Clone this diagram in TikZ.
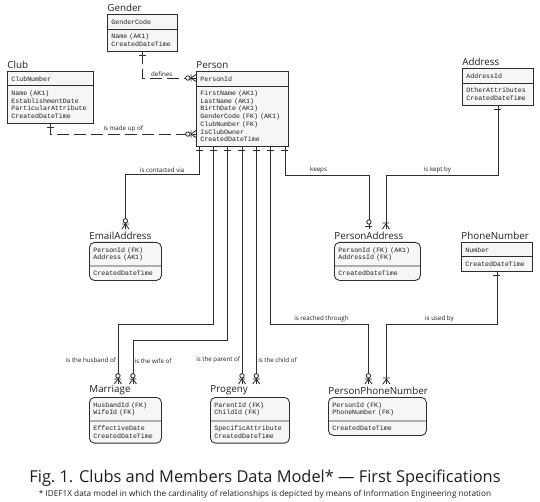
\documentclass[tikz,border=0pt]{standalone}
\usepackage{fontspec}
\setmainfont{Open Sans}
\setmonofont{Liberation Mono}
\usepackage{tikz}
\usetikzlibrary{positioning, shapes.multipart, calc}
\definecolor{erline}{HTML}{2E2E2E}
\definecolor{erfill}{HTML}{F6F6F6}
\definecolor{ertext}{HTML}{1E1E1E}
\newcommand{\attrfont}{\fontsize{6.6}{7.7}\selectfont\ttfamily}

\tikzset{
    pics/one/.style={code={\draw (-3.5,-3.5) -- (3.5,-3.5);}},
    pics/zmany/.style={code={
        \draw (0,-5) -- (-3.5,0) (0,-5) -- (3.5,0) (-3.5,-5) -- (3.5,-5);
        \draw[fill=white] (0,-8.2) circle (2.2pt);}},
    pics/zone/.style={code={
        \draw (-3.5,-3) -- (3.5,-3);
        \draw[fill=white] (0,-7) circle (2.2pt);}},
    pics/omany/.style={code={
        \draw (0,-5) -- (-3.5,0) (0,-5) -- (3.5,0) (-3.5,-6) -- (3.5,-6);}},
}

\begin{document}
\begin{tikzpicture}[
    x=1pt, y=-1pt, line width=0.85pt, draw=erline, text=ertext,
    entity/.style={rectangle split, rectangle split parts=2, draw=erline, fill=erfill,
                   text width=#1, align=left, inner xsep=4pt, inner ysep=4.4pt,
                   anchor=north west, font=\attrfont},
    depent/.style={entity=#1, rounded corners=5pt},
    ttl/.style={anchor=south west, inner xsep=0pt, inner ysep=1.5pt, font=\fontsize{9.8}{11}\selectfont},
    rel/.style={draw=erline},
    nonid/.style={rel, dash pattern=on 12pt off 5pt},
    lbl/.style={font=\fontsize{6.2}{7}\selectfont, inner sep=1.5pt},
]
    \useasboundingbox (0,0) rectangle (540,502);

    % Gender
    \node[entity=62pt] (gender) at (107,14) {GenderCode \nodepart{two} Name (AK1)\\CreatedDateTime};
    \node[ttl] (genderT) at (gender.north west) {Gender};

    % Club
    \node[entity=78pt] (club) at (7,71) {ClubNumber \nodepart{two} Name (AK1)\\EstablishmentDate\\ParticularAttribute\\CreatedDateTime};
    \node[ttl] (clubT) at (club.north west) {Club};

    % Person
    \node[entity=84pt] (person) at (196,71) {PersonId \nodepart{two} FirstName (AK1)\\LastName (AK1)\\BirthDate (AK1)\\GenderCode (FK) (AK1)\\ClubNumber (FK)\\IsClubOwner\\CreatedDateTime};
    \node[ttl] (personT) at (person.north west) {Person};

    % Address
    \node[entity=63pt] (address) at (462,68) {AddressId \nodepart{two} OtherAttributes\\CreatedDateTime};
    \node[ttl] (addressT) at (address.north west) {Address};

    % EmailAddress
    \node[depent=64pt] (email) at (89,242) {PersonId (FK)\\Address (AK1) \nodepart{two} CreatedDateTime};
    \node[ttl] (emailT) at (email.north west) {EmailAddress};

    % PersonAddress
    \node[depent=78pt] (paddr) at (334,242) {PersonId (FK) (AK1)\\AddressId (FK) \nodepart{two} CreatedDateTime};
    \node[ttl] (paddrT) at (paddr.north west) {PersonAddress};

    % PhoneNumber
    \node[entity=63pt] (phone) at (461,242) {Number \nodepart{two} CreatedDateTime};
    \node[ttl] (phoneT) at (phone.north west) {PhoneNumber};

    % Marriage
    \node[depent=64pt] (marriage) at (89,397) {HusbandId (FK)\\WifeId (FK) \nodepart{two} EffectiveDate\\CreatedDateTime};
    \node[ttl] (marriageT) at (marriage.north west) {Marriage};

    % Progeny
    \node[depent=71pt] (progeny) at (210,397) {ParentId (FK)\\ChildId (FK) \nodepart{two} SpecificAttribute\\CreatedDateTime};
    \node[ttl] (progenyT) at (progeny.north west) {Progeny};

    % PersonPhoneNumber
    \node[depent=90pt] (ppn) at (328,397) {PersonId (FK)\\PhoneNumber (FK) \nodepart{two} CreatedDateTime};
    \node[ttl] (ppnT) at (ppn.north west) {PersonPhoneNumber};

    % end points
    \foreach \i in {1,...,7}
        \coordinate (p\i) at ($(person.south west)+({3+14.33*(\i-1)},0)$);
    \coordinate (pe-def) at ($(person.north west)+(0,7)$);
    \coordinate (pe-club) at ($(person.south west)+(0,-13)$);
    \coordinate (em-in) at ($(email.north)+(0,-13)$);
    \coordinate (pa-in1) at ($(paddr.north)+(-8.5,-13)$);
    \coordinate (pa-in2) at ($(paddr.north)+(8.5,-13)$);
    \coordinate (ma-in1) at ($(marriage.north)+(-7.5,-13)$);
    \coordinate (ma-in2) at ($(marriage.north)+(7.5,-13)$);
    \coordinate (pr-in) at ($(progeny.north)+(0,-13)$);
    \coordinate (pp-in1) at ($(ppn.north)+(-9,-13)$);
    \coordinate (pp-in2) at ($(ppn.north)+(9,-13)$);

    % non-identifying relationships
    \draw[nonid] (gender.south) |- (pe-def) node[lbl, pos=.68, above] (defines) {defines};
    \draw[nonid] (club.south) |- (pe-club) node[lbl, pos=.75, above] (madeup) {is made up of};

    % identifying relationships
    \draw[rel] (p1) -- (p1 |- 0,174) -| (em-in) node[lbl, pos=.25, above] (contacted) {is contacted via};
    \draw[rel] (p2) -- (p2 |- 0,324) -| (ma-in1) node[lbl, pos=.8, left] (husband) {is the husband of};
    \draw[rel] (p3) -- (p3 |- 0,340) -| (ma-in2) node[lbl, pos=.74, right] (wife) {is the wife of};
    \draw[rel] (p4) -- (p4 |- pr-in) node[lbl, pos=.9, left] (parent) {is the parent of};
    \draw[rel] (p5) -- (p5 |- pr-in) node[lbl, pos=.9, right] (child) {is the child of};
    \draw[rel] (p6) -- (p6 |- 0,324) -| (pp-in1) node[lbl, pos=.26, above] (reached) {is reached through};
    \draw[rel] (p7) -- (p7 |- 0,175) -| (pa-in1) node[lbl, pos=.2, above] (keeps) {keeps};
    \draw[rel] (address.south) -- (address.south |- 0,175) -| (pa-in2) node[lbl, pos=.27, above] (keptby) {is kept by};
    \draw[rel] (phone.south) -- (phone.south |- 0,324) -| (pp-in2) node[lbl, pos=.26, above] (usedby) {is used by};

    % cardinality marks
    \foreach \i in {1,...,7}
        \pic[rotate=180] at (p\i) {one};
    \pic[rotate=180] at (gender.south) {one};
    \pic[rotate=180] at (club.south) {one};
    \pic[rotate=180] at (address.south) {one};
    \pic[rotate=180] at (phone.south) {one};
    \pic[rotate=90] at (pe-def) {zmany};
    \pic[rotate=90] at (pe-club) {zmany};
    \pic at (em-in) {zmany};
    \pic at (ma-in1) {zmany};
    \pic at (ma-in2) {zmany};
    \pic at ($(p4 |- pr-in)$) {zmany};
    \pic at ($(p5 |- pr-in)$) {zmany};
    \pic at (pa-in1) {zone};
    \pic at (pa-in2) {omany};
    \pic at (pp-in1) {zmany};
    \pic at (pp-in2) {omany};

    % caption
    \node[font=\fontsize{16.4}{18}\selectfont] (caption) at (265,478) {Fig.~1. Clubs and Members Data Model* — First Specifications};
    \node[font=\fontsize{8.2}{9}\selectfont] (note) at (265,494) {* IDEF1X data model in which the cardinality of relationships is depicted by means of Information Engineering notation};
\end{tikzpicture}
\end{document}
